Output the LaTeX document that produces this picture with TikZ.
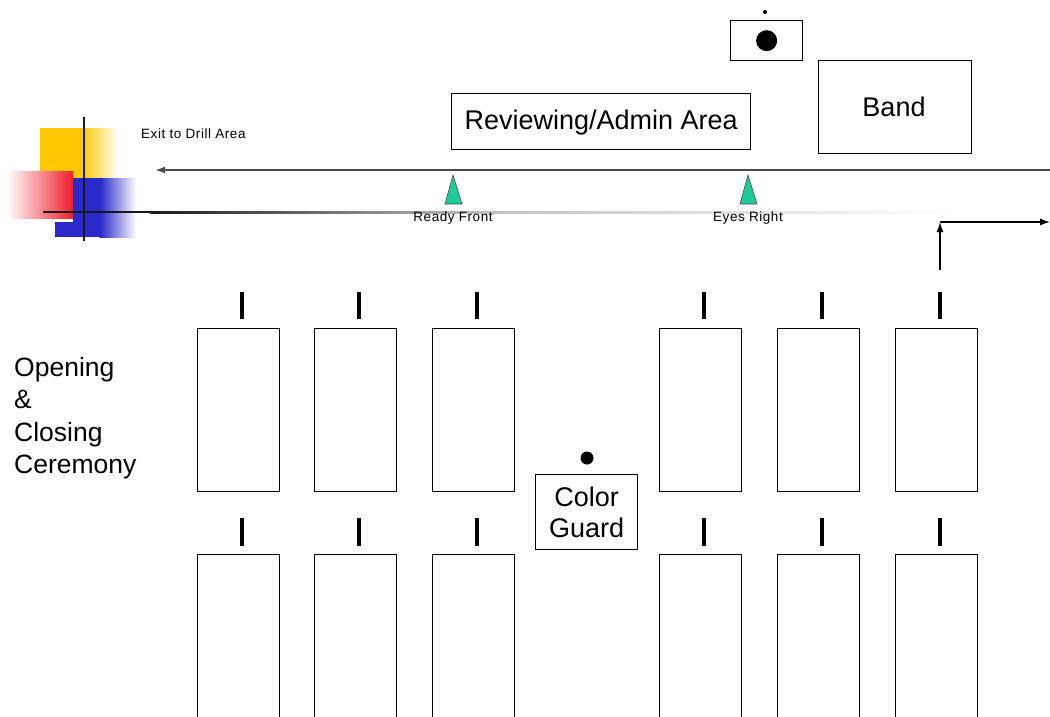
\documentclass[tikz,border=0pt]{standalone}
\usepackage{fontspec}
\setmainfont{Liberation Sans}
\usetikzlibrary{arrows.meta,calc}
\definecolor{tri}{HTML}{1FCC99}
\definecolor{ylw}{HTML}{FFC800}
\definecolor{blu}{HTML}{2A2ACC}
\definecolor{rd}{HTML}{F01E2A}
\begin{document}
\begin{tikzpicture}[x=1pt,y=-1pt,
  box/.style={draw=black,line width=1.3pt,fill=white,inner sep=0pt,anchor=north west},
  rank/.style={box,minimum width=82pt,minimum height=163pt},
  tick/.style={line width=4pt,black},
  tri/.style={fill=tri,draw=black!70,line width=0.6pt},
  small/.style={font=\fontsize{13.5}{14}\selectfont\addfontfeature{LetterSpace=4},inner sep=0pt},
  big/.style={font=\fontsize{27}{31}\selectfont}]
\useasboundingbox (0,0) rectangle (1050,717);
\clip (0,0) rectangle (1050,717);
% logo
\fill[ylw] (40,128) rectangle (82,178);
\shade[left color=ylw,right color=white] (82,128) rectangle (118,178);
\shade[left color=white,right color=rd] (7,171) rectangle (73,218);
\fill[blu] (73,178) rectangle (100,237);
\fill[blu] (55,222) rectangle (73,237);
\shade[left color=blu,right color=white] (100,178) rectangle (136,237);
\draw[line width=1.6pt,black!90] (84,117) -- (84,241);
% gradient line
\fill[black!90] (43,211) rectangle (150,213);
\shade[left color=black!90,right color=black!25] (150,211) rectangle (480,213);
\shade[left color=black!25,right color=white] (480,211) rectangle (960,213);
% exit arrow
\coordinate (exitR) at (1050,170);
\coordinate (exitL) at (155,170);
\draw[line width=1.8pt,black!70,-{Latex[length=10pt,width=7pt]}] (exitR) -- (exitL);
\node[small,anchor=base west] (exit) at (141,139) {Exit to Drill Area};
% top boxes
\node[circle,fill=black,inner sep=0pt,minimum size=4pt] (sdot) at (765,12) {};
\node[box,minimum width=72pt,minimum height=40pt] (cam) at (730,20) {};
\node[circle,fill=black,inner sep=0pt,minimum size=21pt] (bdot) at (cam.center) {};
\node[box,minimum width=153pt,minimum height=93pt] (band) at (818,60) {};
\node[big] at (894,107) {Band};
\node[box,minimum width=299pt,minimum height=56pt] (rev) at (451,93) {};
\node[big] at ($(rev.center)+(0,1)$) {Reviewing/Admin Area};
% triangles
\filldraw[tri] (445,204) -- (453,175) -- (462,204) -- cycle;
\node[small,anchor=base] (rf) at (453,221) {Ready Front};
\filldraw[tri] (740,204) -- (748,175) -- (757,204) -- cycle;
\node[small,anchor=base] (er) at (748,221) {Eyes Right};
% turn arrow
\coordinate (ta) at (940,270);
\coordinate (tb) at (940,222);
\coordinate (tc) at (1050,222);
\draw[line width=1.3pt,-{Latex[length=10pt,width=7pt]}] (ta) -- (tb);
\draw[line width=1.3pt,-{Latex[length=10pt,width=7pt]}] (tb) -- (tc);
% ranks
\foreach \x [count=\i] in {197,314,432,659,777,895}{
  \node[rank] (t\i) at (\x,328) {};
  \draw[tick] ($(t\i.north)+(3.5,-9)$) -- ++(0,-27);
  \node[rank] (b\i) at (\x,554) {};
  \draw[tick] ($(b\i.north)+(3.5,-8)$) -- ++(0,-28);
}
% color guard
\node[box,minimum width=102pt,minimum height=75pt] (cg) at (535,474) {};
\node[big,align=center,inner sep=0pt] at (cg.center) {Color\\Guard};
\node[circle,fill=black,inner sep=0pt,minimum size=13pt] (cgdot) at (587,458) {};
% ceremony
\node[font=\fontsize{26.5}{32.5}\selectfont,align=left,anchor=north west,inner sep=0pt] (cer) at (14,357) {Opening\\\&\\Closing\\Ceremony};
\end{tikzpicture}
\end{document}
